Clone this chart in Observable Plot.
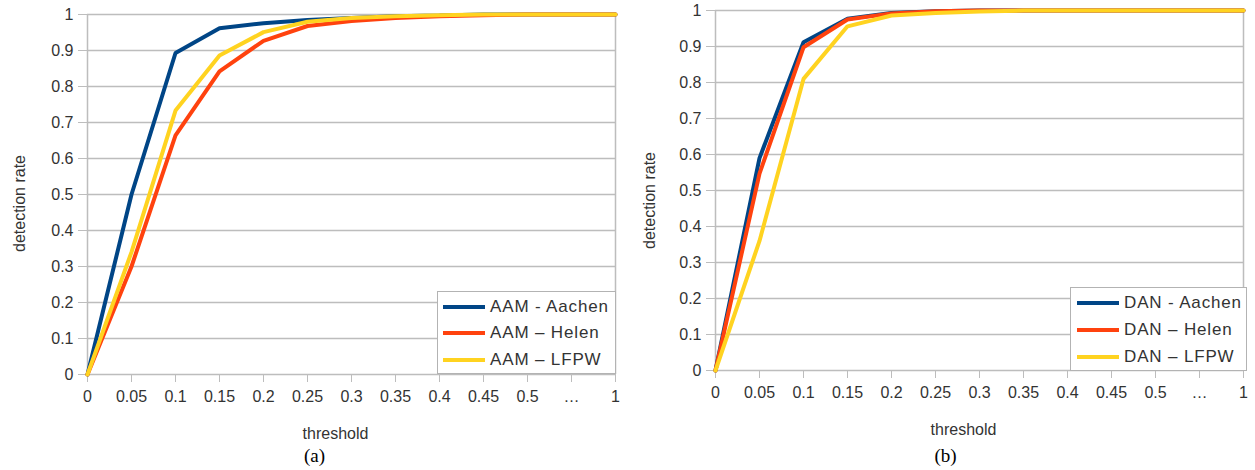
<!DOCTYPE html>
<html><head><meta charset="utf-8">
<script src="https://cdn.jsdelivr.net/npm/d3@7"></script>
<script src="https://cdn.jsdelivr.net/npm/@observablehq/plot@0.6"></script>
<style>
body{margin:0;background:#fff;}
#wrap{position:relative;width:1255px;height:470px;display:flex;}
.legend{position:absolute;background:#fff;border:1px solid #b3b3b3;box-sizing:border-box;font:17px "Liberation Sans",Arial,sans-serif;letter-spacing:0.85px;color:#333;}
.row{position:absolute;left:0;height:20px;display:flex;align-items:center;white-space:nowrap;}
.sw{display:inline-block;height:4px;}
</style></head>
<body><div id="wrap"></div>
<script>
const thresholds = ["0","0.05","0.1","0.15","0.2","0.25","0.3","0.35","0.4","0.45","0.5","…","1"];
const yTicks = [0,0.1,0.2,0.3,0.4,0.5,0.6,0.7,0.8,0.9,1];
const aamNames = ["AAM - Aachen","AAM – Helen","AAM – LFPW"];
const aamAachen = [0, 0.50, 0.893, 0.962, 0.976, 0.985, 0.99, 0.995, 0.997, 1, 1, 1, 1];
const aamHelen  = [0, 0.30, 0.664, 0.842, 0.927, 0.968, 0.982, 0.99, 0.995, 0.998, 1, 1, 1];
const aamLfpw   = [0, 0.34, 0.733, 0.886, 0.951, 0.98, 0.99, 0.995, 0.998, 1, 1, 1, 1];
const danNames = ["DAN - Aachen","DAN – Helen","DAN – LFPW"];
const danAachen = [0, 0.59, 0.912, 0.977, 0.993, 0.998, 1, 1, 1, 1, 1, 1, 1];
const danHelen  = [0, 0.547, 0.898, 0.975, 0.992, 0.998, 1, 1, 1, 1, 1, 1, 1];
const danLfpw   = [0, 0.36, 0.81, 0.956, 0.986, 0.993, 0.997, 1, 1, 1, 1, 1, 1];
const colors = ["#004586","#ff420e","#ffd320"];

const font = '"Liberation Sans", Arial, sans-serif';

function panel({names, series, width, marginLeft, marginTop, caption, thDx, thDy, capDx, capDy, ytDx, ytDy}) {
  const data = [];
  series.forEach((vals, i) => vals.forEach((v, j) => data.push({t: thresholds[j], v, s: names[i]})));
  return Plot.plot({
    width, height: 470, marginLeft, marginRight: 12, marginTop, marginBottom: 470 - marginTop - 360,
    style: {fontFamily: font, fontSize: "16px", color: "#333", background: "#fff", overflow: "visible"},
    x: {type: "point", domain: thresholds, padding: 0, label: null},
    y: {domain: [0, 1], label: null},
    color: {domain: names, range: colors},
    marks: [
      Plot.ruleY(yTicks, {stroke: "#bdbdbd", strokeWidth: 1.5}),
      Plot.ruleX([thresholds[thresholds.length - 1]], {stroke: "#bdbdbd", strokeWidth: 1.5}),
      Plot.ruleX([thresholds[0]], {stroke: "#bdbdbd", strokeWidth: 1.5}),
      Plot.axisY({ticks: yTicks, tickSize: 9, tickPadding: 5, stroke: "#bdbdbd", fill: "#333", tickFormat: d => String(d), label: null, fontSize: 16, letterSpacing: 0.6}),
      Plot.axisX({tickSize: 8, tickPadding: 8, stroke: "#bdbdbd", fill: "#333", label: null, fontSize: 16, letterSpacing: 0.6}),
      Plot.line(data, {x: "t", y: "v", stroke: "s", z: "s", strokeWidth: 4, strokeLinejoin: "miter"}),
      Plot.text(["threshold"], {frameAnchor: "bottom", textAnchor: "middle", lineAnchor: "middle", dx: thDx, dy: thDy, fontSize: 16, letterSpacing: 0.4, fill: "#333"}),
      Plot.text(["detection rate"], {frameAnchor: "left", textAnchor: "middle", lineAnchor: "middle", rotate: -90, dx: ytDx, dy: ytDy, fontSize: 16, letterSpacing: 0.5, fill: "#333"}),
      Plot.text([caption], {frameAnchor: "bottom", textAnchor: "middle", lineAnchor: "middle", dx: capDx, dy: capDy, fontSize: 19, fill: "#000", fontFamily: '"Liberation Serif", "Times New Roman", serif'})
    ]
  });
}

const wrap = document.getElementById("wrap");
wrap.append(panel({names: aamNames, series: [aamAachen, aamHelen, aamLfpw], width: 627, marginLeft: 87, marginTop: 14,
  caption: "(a)", thDx: -16, thDy: 59, capDx: -37, capDy: 81, ytDx: -68, ytDy: 9}));
wrap.append(panel({names: danNames, series: [danAachen, danHelen, danLfpw], width: 628, marginLeft: 88, marginTop: 10,
  caption: "(b)", thDx: -16, thDy: 59, capDx: -34, capDy: 85, ytDx: -66, ytDy: 10}));

function legend(names, box, rows, swX, swW, txX) {
  const d = document.createElement("div");
  d.className = "legend";
  Object.assign(d.style, {left: box[0] + "px", top: box[1] + "px", width: box[2] + "px", height: box[3] + "px"});
  names.forEach((n, i) => {
    const r = document.createElement("div");
    r.className = "row";
    r.style.top = (rows[i] - box[1] - 10) + "px";
    r.style.left = (swX - box[0] - 1) + "px";
    const sw = document.createElement("span");
    sw.className = "sw";
    sw.style.width = swW + "px";
    sw.style.background = colors[i];
    sw.style.marginRight = (txX - swX - swW) + "px";
    r.append(sw, document.createTextNode(n));
    d.append(r);
  });
  wrap.append(d);
}
legend(aamNames, [437, 291, 179, 83], [306, 332, 359], 443, 42, 490);
legend(danNames, [1070, 287, 177, 84], [302, 329, 356], 1077, 42, 1124);
</script></body></html>
